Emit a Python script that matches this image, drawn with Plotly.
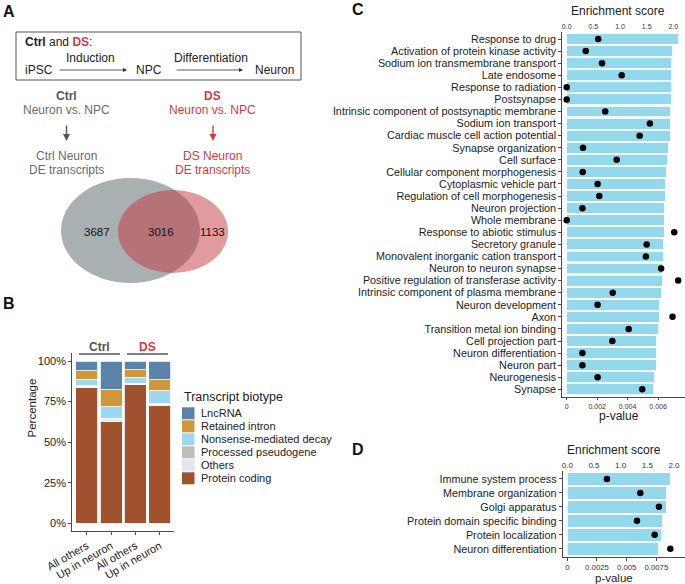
import plotly.graph_objects as go

W, H = 685, 584
FONT = "Liberation Sans, Arial, sans-serif"
GREY_TXT = "#6b6b6b"
RED = "#d7393e"

# ---------------- Data ----------------
venn_counts = [3687, 3016, 1133]  # Ctrl only, shared, DS only

biotypes = ["LncRNA", "Retained intron", "Nonsense-mediated decay",
            "Processed pseudogene", "Others", "Protein coding"]
biotype_colors = ["#5a83a9", "#d0963a", "#9dd8ef", "#bdbdbd", "#e4e4f2", "#a0522d"]
bar_groups = ["All others", "Up in neuron", "All others", "Up in neuron"]
pct_lncrna = [6.0, 17.7, 5.5, 11.5]
pct_retained = [5.7, 10.5, 4.4, 6.8]
pct_nmd = [3.5, 7.5, 3.7, 8.0]
pct_pseudo = [0.4, 0.5, 0.3, 0.4]
pct_others = [0.6, 0.8, 0.5, 0.6]
pct_coding = [83.8, 63.0, 85.6, 72.7]
biotype_values = [pct_lncrna, pct_retained, pct_nmd, pct_pseudo, pct_others, pct_coding]
pct_ticks = [0, 25, 50, 75, 100]
pct_ticktext = ["0%", "25%", "50%", "75%", "100%"]

c_terms = ["Response to drug", "Activation of protein kinase activity",
           "Sodium ion transmembrane transport", "Late endosome",
           "Response to radiation", "Postsynapse",
           "Intrinsic component of postsynaptic membrane", "Sodium ion transport",
           "Cardiac muscle cell action potential", "Synapse organization",
           "Cell surface", "Cellular component morphogenesis",
           "Cytoplasmic vehicle part", "Regulation of cell morphogenesis",
           "Neuron projection", "Whole membrane", "Response to abiotic stimulus",
           "Secretory granule", "Monovalent inorganic cation transport",
           "Neuron to neuron synapse", "Positive regulation of transferase activity",
           "Intrinsic component of plasma membrane", "Neuron development", "Axon",
           "Transition metal ion binding", "Cell projection part",
           "Neuron differentiation", "Neuron part", "Neurogenesis", "Synapse"]
c_enrich = [2.10, 1.99, 1.97, 1.97, 1.96, 1.96, 1.94, 1.94, 1.94, 1.91,
            1.89, 1.88, 1.86, 1.85, 1.83, 1.83, 1.83, 1.81, 1.81, 1.80,
            1.79, 1.78, 1.74, 1.74, 1.73, 1.69, 1.69, 1.68, 1.65, 1.63]
c_pvalue = [0.00207, 0.00125, 0.00232, 0.00361, 0.0, 0.0, 0.00253, 0.00546,
            0.00479, 0.00107, 0.00328, 0.00105, 0.00203, 0.00214, 0.00103,
            0.0, 0.00706, 0.00525, 0.00520, 0.00620, 0.00732, 0.00302,
            0.00203, 0.00695, 0.00407, 0.00300, 0.00103, 0.00103, 0.00203,
            0.00496]
c_enrich_ticks = [0.0, 0.5, 1.0, 1.5, 2.0]
c_p_ticks = [0, 0.002, 0.004, 0.006]
c_p_ticktext = ["0", "0.002", "0.004", "0.006"]

d_terms = ["Immune system process", "Membrane organization", "Golgi apparatus",
           "Protein domain specific binding", "Protein localization",
           "Neuron differentiation"]
d_enrich = [1.93, 1.86, 1.85, 1.79, 1.77, 1.71]
d_pvalue = [0.00334, 0.00615, 0.00772, 0.00587, 0.00736, 0.00868]
d_enrich_ticks = [0.0, 0.5, 1.0, 1.5, 2.0]
d_p_ticks = [0, 0.0025, 0.005, 0.0075]
d_p_ticktext = ["0", "0.0025", "0.005", "0.0075"]


def px(x):
    return x / W


def py(y):
    return 1 - y / H


fig = go.Figure()

# ---------------- Panel B: stacked bars ----------------
xb = list(range(len(bar_groups)))
for name, color, vals in reversed(list(zip(biotypes, biotype_colors, biotype_values))):
    fig.add_trace(go.Bar(x=xb, y=vals, name=name, marker_color=color,
                         marker_line_color="white", marker_line_width=0.8,
                         width=0.9, xaxis="x3", yaxis="y3", showlegend=False))

# ---------------- Panel C ----------------
BAR_C = "#94d8ec"
fig.add_trace(go.Bar(y=c_terms, x=c_enrich, orientation="h", marker_color=BAR_C,
                     marker_line_color="white", marker_line_width=0.8, width=0.9,
                     xaxis="x", yaxis="y", showlegend=False))
fig.add_trace(go.Scatter(y=c_terms, x=c_pvalue, mode="markers",
                         marker=dict(color="black", size=6.5),
                         xaxis="x2", yaxis="y", showlegend=False, cliponaxis=False))

# ---------------- Panel D ----------------
fig.add_trace(go.Bar(y=d_terms, x=d_enrich, orientation="h", marker_color=BAR_C,
                     marker_line_color="white", marker_line_width=0.8, width=0.9,
                     xaxis="x4", yaxis="y4", showlegend=False))
fig.add_trace(go.Scatter(y=d_terms, x=d_pvalue, mode="markers",
                         marker=dict(color="black", size=6.5),
                         xaxis="x5", yaxis="y4", showlegend=False, cliponaxis=False))

AX = "#4a4a4a"
TICK = dict(family=FONT, size=10.8, color="#222")

# panel C geometry
c_x0, c_x1 = 562.3, 685.0
c_zero, c_ppu = 566.7, 53.3          # pixel of 0, pixels per enrichment unit
c_k = 0.0035                          # p-value per enrichment unit
c_lo = (c_x0 - c_zero) / c_ppu
c_hi = (c_x1 - c_zero) / c_ppu
nC = len(c_terms)

d_x0, d_x1 = 562.7, 685.0
d_zero, d_ppu = 567.3, 53.35
d_k = 0.004495
d_lo = (d_x0 - d_zero) / d_ppu
d_hi = (d_x1 - d_zero) / d_ppu
nD = len(d_terms)

common = dict(automargin=False, showgrid=False, zeroline=False)
xcommon = dict(ticklabeloverflow="allow", **common)

fig.update_layout(
    width=W, height=H, margin=dict(l=0, r=0, t=0, b=0, pad=0),
    paper_bgcolor="white", plot_bgcolor="white",
    barmode="stack", bargap=0.1,
    font=dict(family=FONT, color="#222"),
    xaxis=dict(domain=[px(c_x0), px(c_x1)], range=[c_lo, c_hi], side="top", anchor="y",
               tickmode="array", tickvals=c_enrich_ticks,
               ticktext=[f"{v:.1f}" for v in c_enrich_ticks], ticks="", showline=False,
               tickfont=dict(family=FONT, size=7, color="#333"), **xcommon),
    xaxis2=dict(overlaying="x", side="bottom", anchor="y", range=[c_lo * c_k, c_hi * c_k],
                tickmode="array", tickvals=c_p_ticks, ticktext=c_p_ticktext,
                ticks="outside", ticklen=2.5,
                tickcolor=AX, showline=True, linecolor=AX, linewidth=1,
                tickfont=dict(family=FONT, size=7, color="#333"), **xcommon),
    yaxis=dict(domain=[py(396.6), py(31.75)], anchor="x", type="category",
               categoryorder="array", categoryarray=c_terms,
               tickmode="array", tickvals=c_terms, ticktext=c_terms,
               range=[nC - 1 + 0.6, -0.6], ticks="outside", ticklen=3, tickcolor=AX,
               showline=True, linecolor=AX, linewidth=1, tickfont=TICK, **common),
    xaxis4=dict(domain=[px(d_x0), px(d_x1)], range=[d_lo, d_hi], side="top", anchor="y4",
                tickmode="array", tickvals=d_enrich_ticks,
                ticktext=[f"{v:.1f}" for v in d_enrich_ticks], ticks="", showline=False,
                tickfont=dict(family=FONT, size=8, color="#333"), **xcommon),
    xaxis5=dict(overlaying="x4", side="bottom", anchor="y4", range=[d_lo * d_k, d_hi * d_k],
                tickmode="array", tickvals=d_p_ticks, ticktext=d_p_ticktext,
                ticks="outside", ticklen=2.5,
                tickcolor=AX, showline=True, linecolor=AX, linewidth=1,
                tickfont=dict(family=FONT, size=7.8, color="#333"), **xcommon),
    yaxis4=dict(domain=[py(557.1), py(470.6)], anchor="x4", type="category",
                categoryorder="array", categoryarray=d_terms,
                tickmode="array", tickvals=d_terms, ticktext=d_terms,
                range=[nD - 1 + 0.6, -0.6], ticks="outside", ticklen=3, tickcolor=AX,
                showline=True, linecolor=AX, linewidth=1, tickfont=TICK, **common),
    xaxis3=dict(domain=[px(72.2), px(174.3)], range=[-0.6, 3.6], anchor="y3",
                tickmode="array", tickvals=xb, ticktext=bar_groups, tickangle=-30,
                ticks="outside", ticklen=3, tickcolor=AX, showline=True, linecolor=AX,
                linewidth=1, tickfont=dict(family=FONT, size=11, color="#222"), **xcommon),
    yaxis3=dict(domain=[py(531.4), py(352.9)], range=[-5, 105], anchor="x3",
                tickmode="array", tickvals=pct_ticks, ticktext=pct_ticktext,
                ticks="outside", ticklen=3, tickcolor=AX, showline=True, linecolor=AX,
                linewidth=1, tickfont=dict(family=FONT, size=11, color="#222"), **common),
)

ann = []
shapes = []


def text(x, y, s, size=12, color="#222", xanchor="center", yanchor="middle", **kw):
    ann.append(dict(x=px(x), y=py(y), xref="paper", yref="paper", text=s,
                    showarrow=False, xanchor=xanchor, yanchor=yanchor,
                    font=dict(family=FONT, size=size, color=color), **kw))


def arrow(x0, y0, x1, y1, color, width, head=2, size=1.0):
    ann.append(dict(x=px(x1), y=py(y1), xref="paper", yref="paper",
                    ax=x0 - x1, ay=y0 - y1, axref="pixel", ayref="pixel",
                    text="", showarrow=True, arrowhead=head, arrowsize=size,
                    arrowwidth=width, arrowcolor=color))


# Panel letters
for lab, x, y in [("A", 9, 12), ("B", 9, 303), ("C", 358, 10), ("D", 358, 449)]:
    text(x, y, f"<b>{lab}</b>", size=16, color="#111")

# ---------------- Panel A ----------------
shapes.append(dict(type="rect", xref="paper", yref="paper", x0=px(16), x1=px(301),
                   y0=py(80), y1=py(32), line=dict(color="#555", width=1)))
text(23, 42, f"<b>Ctrl</b> and <b><span style='color:{RED}'>DS</span></b>:",
     size=12, xanchor="left")
text(23, 70, "iPSC", size=12, xanchor="left")
text(90, 58, "Induction", size=12)
text(149, 70, "NPC", size=12)
text(211, 58, "Differentiation", size=12)
text(274, 70, "Neuron", size=12)
arrow(58, 70, 127, 70, "#333", 0.8, head=2, size=1.0)
arrow(175, 70, 243, 70, "#333", 0.8, head=2, size=1.0)

text(66.5, 95.5, "<b>Ctrl</b>", size=12, color="#555")
text(66.5, 110, "Neuron vs. NPC", size=12, color=GREY_TXT)
arrow(66.5, 124, 66.5, 141, "#555", 1.4, head=2, size=1.0)
text(66.5, 155.5, "Ctrl Neuron", size=12, color=GREY_TXT)
text(66.5, 170.5, "DE transcripts", size=12, color=GREY_TXT)

text(213, 95.5, "<b>DS</b>", size=12, color=RED)
text(213, 110, "Neuron vs. NPC", size=12, color=RED)
arrow(213, 124, 213, 141, RED, 1.4, head=2, size=1.0)
text(213, 155.5, "DS Neuron", size=12, color=RED)
text(213, 170.5, "DE transcripts", size=12, color=RED)

# Venn ellipses
shapes.append(dict(type="circle", xref="paper", yref="paper", x0=px(61), x1=px(200),
                   y0=py(283), y1=py(178), fillcolor="#a8b0b2", line=dict(width=0),
                   layer="below"))
shapes.append(dict(type="circle", xref="paper", yref="paper", x0=px(118), x1=px(228),
                   y0=py(273), y1=py(190), fillcolor="#c4363c", opacity=0.5,
                   line=dict(width=0), layer="below"))
for x, v in zip([97, 161, 213], venn_counts):
    text(x, 232, str(v), size=11.5, color="#111")

# ---------------- Panel B extras ----------------
shapes.append(dict(type="line", xref="paper", yref="paper", x0=px(79), x1=px(120),
                   y0=py(354), y1=py(354), line=dict(color="#555", width=1.6)))
shapes.append(dict(type="line", xref="paper", yref="paper", x0=px(127), x1=px(168),
                   y0=py(354), y1=py(354), line=dict(color="#555", width=1.6)))
text(99.5, 346.5, "<b>Ctrl</b>", size=12, color="#555")
text(147.5, 346.5, "<b>DS</b>", size=12, color=RED)
ann.append(dict(x=px(23), y=py(440), xref="paper", yref="paper", text="Percentage",
                showarrow=False, textangle=-90,
                font=dict(family=FONT, size=11.5, color="#222")))

# manual legend
text(182, 397, "Transcript biotype", size=12.5, xanchor="left")
for i, (name, color) in enumerate(zip(biotypes, biotype_colors)):
    yc = 413.3 + 13 * i
    shapes.append(dict(type="rect", xref="paper", yref="paper", x0=px(182), x1=px(194.5),
                       y0=py(yc + 6), y1=py(yc - 6), fillcolor=color, line=dict(width=0)))
    text(198.5, yc, name, size=11, xanchor="left")

# ---------------- Panel C/D axis titles ----------------
text(618, 11, "Enrichment score", size=12)
text(619, 416, "p-value", size=12)
text(614, 450, "Enrichment score", size=12)
text(614, 577.5, "p-value", size=11.5)

fig.update_layout(annotations=ann, shapes=shapes)
fig.write_html("out.html", config={"displayModeBar": False},
               post_script="document.body.style.margin='0';"
                           "document.body.style.overflow='hidden';")
